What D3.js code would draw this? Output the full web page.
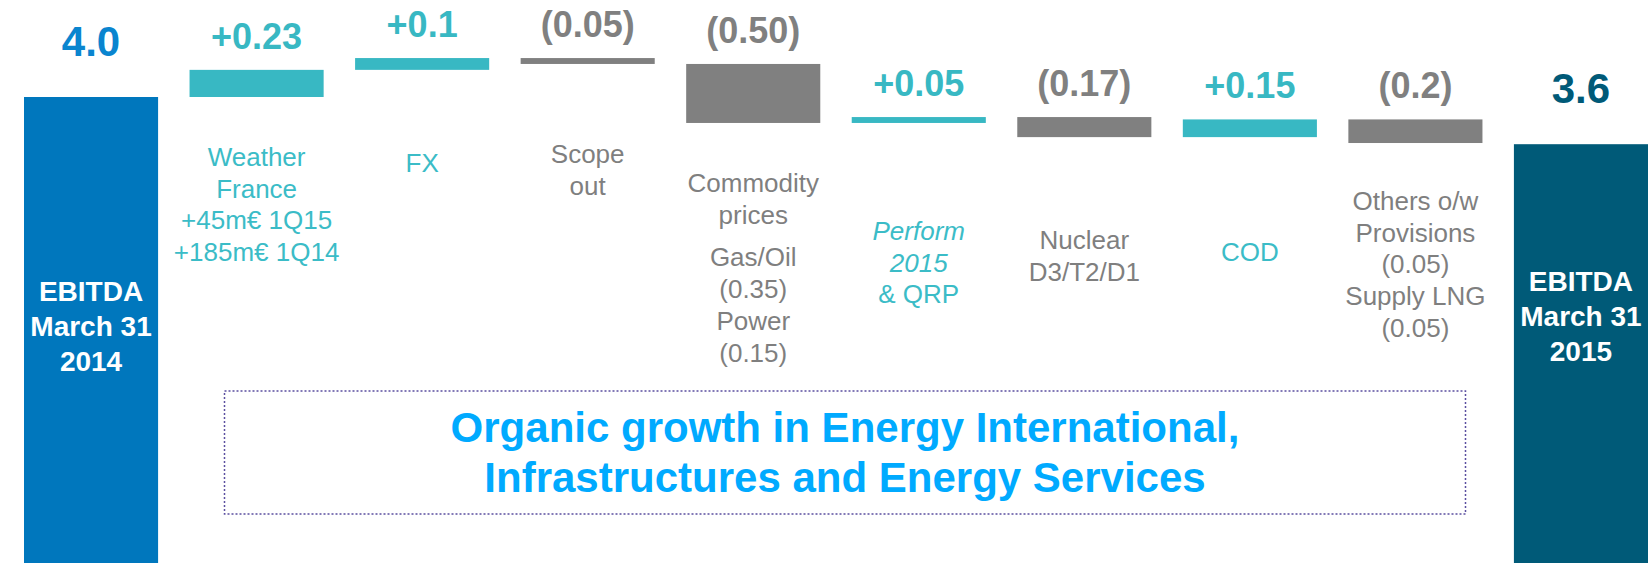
<!DOCTYPE html>
<html>
<head>
<meta charset="utf-8">
<script src="https://cdn.jsdelivr.net/npm/d3@7"></script>
<style>
    html, body { margin: 0; padding: 0; background: #ffffff; }
    #chart { width: 1652px; height: 563px; overflow: hidden; }
    text { font-family: "Liberation Sans", Arial, sans-serif; }
</style>
</head>
<body>
<div id="chart"></div>
<script>
/*global d3*/

// Bridge steps, EBITDA in bn€
var steps = ["start", "weather", "fx", "scope", "commodity", "perform", "nuclear", "cod", "others", "end"];
var values = [4.0, 0.23, 0.1, -0.05, -0.50, 0.05, -0.17, 0.15, -0.2, 3.6];
var valueLabels = ["4.0", "+0.23", "+0.1", "(0.05)", "(0.50)", "+0.05", "(0.17)", "+0.15", "(0.2)", "3.6"];
var kinds = ["total", "up", "up", "down", "down", "up", "down", "up", "down", "total"];

var categoryLines = [
    ["EBITDA", "March 31", "2014"],
    ["Weather", "France", "+45m€ 1Q15", "+185m€ 1Q14"],
    ["FX"],
    ["Scope", "out"],
    ["Commodity", "prices", "Gas/Oil", "(0.35)", "Power", "(0.15)"],
    ["Perform", "2015", "& QRP"],
    ["Nuclear", "D3/T2/D1"],
    ["COD"],
    ["Others o/w", "Provisions", "(0.05)", "Supply LNG", "(0.05)"],
    ["EBITDA", "March 31", "2015"]
];

var noteLines = ["Organic growth in Energy International,", "Infrastructures and Energy Services"];

(function () {
    "use strict";

    var width = 1652,
        height = 563;

    var colors = {
        startBar: "#0077bd", startText: "#0a85cf",
        endBar: "#005a78", endText: "#005a78",
        up: "#38b8c3", upText: "#3bbcc7",
        down: "#808080", downText: "#7f7f7f",
        note: "#00aaff", noteBorder: "#5b4fa0"
    };

    // where each category caption starts (first baseline) and extra spacing
    var captionLayout = {
        weather: {y: 166}, fx: {y: 172}, scope: {y: 163},
        commodity: {y: 192, gapAfter: 1, gap: 11},
        perform: {y: 240, italic: [0, 1]},
        nuclear: {y: 249}, cod: {y: 261}, others: {y: 210}
    };
    var totalTextY = {start: 301, end: 291};
    var lineH = 31.7;

    var svg = d3.select("#chart").append("svg")
        .attr("width", width)
        .attr("height", height)
        .attr("viewBox", "0 0 " + width + " " + height);

    var x = d3.scaleBand()
        .domain(steps)
        .range([24, 1648])
        .paddingInner(0.19)
        .paddingOuter(0);

    var y = d3.scaleLinear()
        .domain([0, 4])
        .range([569, 97]);

    // running totals for the floating bars
    var bars = [],
        running = 0;
    steps.forEach(function (id, i) {
        var lo, hi;
        if (kinds[i] === "total") {
            lo = 0;
            hi = values[i];
            running = values[i];
        } else {
            lo = running;
            hi = running + values[i];
            running = hi;
        }
        bars.push({
            id: id, kind: kinds[i], label: valueLabels[i],
            lines: categoryLines[i],
            top: Math.max(lo, hi), bottom: Math.min(lo, hi)
        });
    });

    function barFill(d) {
        if (d.kind === "total") { return d.id === "start" ? colors.startBar : colors.endBar; }
        return d.kind === "up" ? colors.up : colors.down;
    }
    function labelFill(d) {
        if (d.kind === "total") { return d.id === "start" ? colors.startText : colors.endText; }
        return d.kind === "up" ? colors.up : colors.down;
    }

    var g = svg.append("g");

    g.selectAll("rect.bar")
        .data(bars)
        .enter().append("rect")
        .attr("class", "bar")
        .attr("x", function (d) { return x(d.id); })
        .attr("y", function (d) { return y(d.top); })
        .attr("width", x.bandwidth())
        .attr("height", function (d) { return y(d.bottom) - y(d.top); })
        .attr("fill", barFill);

    // value labels above bars
    g.selectAll("text.value")
        .data(bars)
        .enter().append("text")
        .attr("class", "value")
        .attr("x", function (d) { return x(d.id) + x.bandwidth() / 2; })
        .attr("y", function (d) { return y(d.top) - (d.kind === "total" ? 41 : 21); })
        .attr("text-anchor", "middle")
        .attr("font-weight", "bold")
        .attr("font-size", function (d) { return d.kind === "total" ? "42px" : "36px"; })
        .attr("fill", labelFill)
        .text(function (d) { return d.label; });

    // captions under the delta bars
    bars.filter(function (d) { return d.kind !== "total"; }).forEach(function (d) {
        var lay = captionLayout[d.id],
            cx = x(d.id) + x.bandwidth() / 2,
            t = g.append("text")
                .attr("text-anchor", "middle")
                .attr("font-size", "26px")
                .attr("fill", d.kind === "up" ? colors.upText : colors.downText);
        d.lines.forEach(function (line, j) {
            var yy = lay.y + j * lineH;
            if (lay.gapAfter !== undefined && j > lay.gapAfter) { yy += lay.gap; }
            t.append("tspan")
                .attr("x", cx)
                .attr("y", yy)
                .attr("font-style", lay.italic && lay.italic.indexOf(j) !== -1 ? "italic" : null)
                .text(line);
        });
    });

    // white captions inside the total bars
    bars.filter(function (d) { return d.kind === "total"; }).forEach(function (d) {
        var cx = x(d.id) + x.bandwidth() / 2,
            t = g.append("text")
                .attr("text-anchor", "middle")
                .attr("font-size", "28px")
                .attr("font-weight", "bold")
                .attr("fill", "#ffffff");
        d.lines.forEach(function (line, j) {
            t.append("tspan")
                .attr("x", cx)
                .attr("y", totalTextY[d.id] + j * 35)
                .text(line);
        });
    });

    // dotted note box
    var box = {x: 224.5, y: 391, w: 1241, h: 123};
    svg.append("rect")
        .attr("x", box.x)
        .attr("y", box.y)
        .attr("width", box.w)
        .attr("height", box.h)
        .attr("fill", "none")
        .attr("stroke", colors.noteBorder)
        .attr("stroke-width", 1.5)
        .attr("stroke-dasharray", "2,2");

    svg.append("g").selectAll("text")
        .data(noteLines)
        .enter().append("text")
        .attr("x", box.x + box.w / 2)
        .attr("y", function (d, i) { return 442 + i * 50; })
        .attr("text-anchor", "middle")
        .attr("font-size", "42px")
        .attr("font-weight", "bold")
        .attr("fill", colors.note)
        .text(function (d) { return d; });
}());
</script>
</body>
</html>
